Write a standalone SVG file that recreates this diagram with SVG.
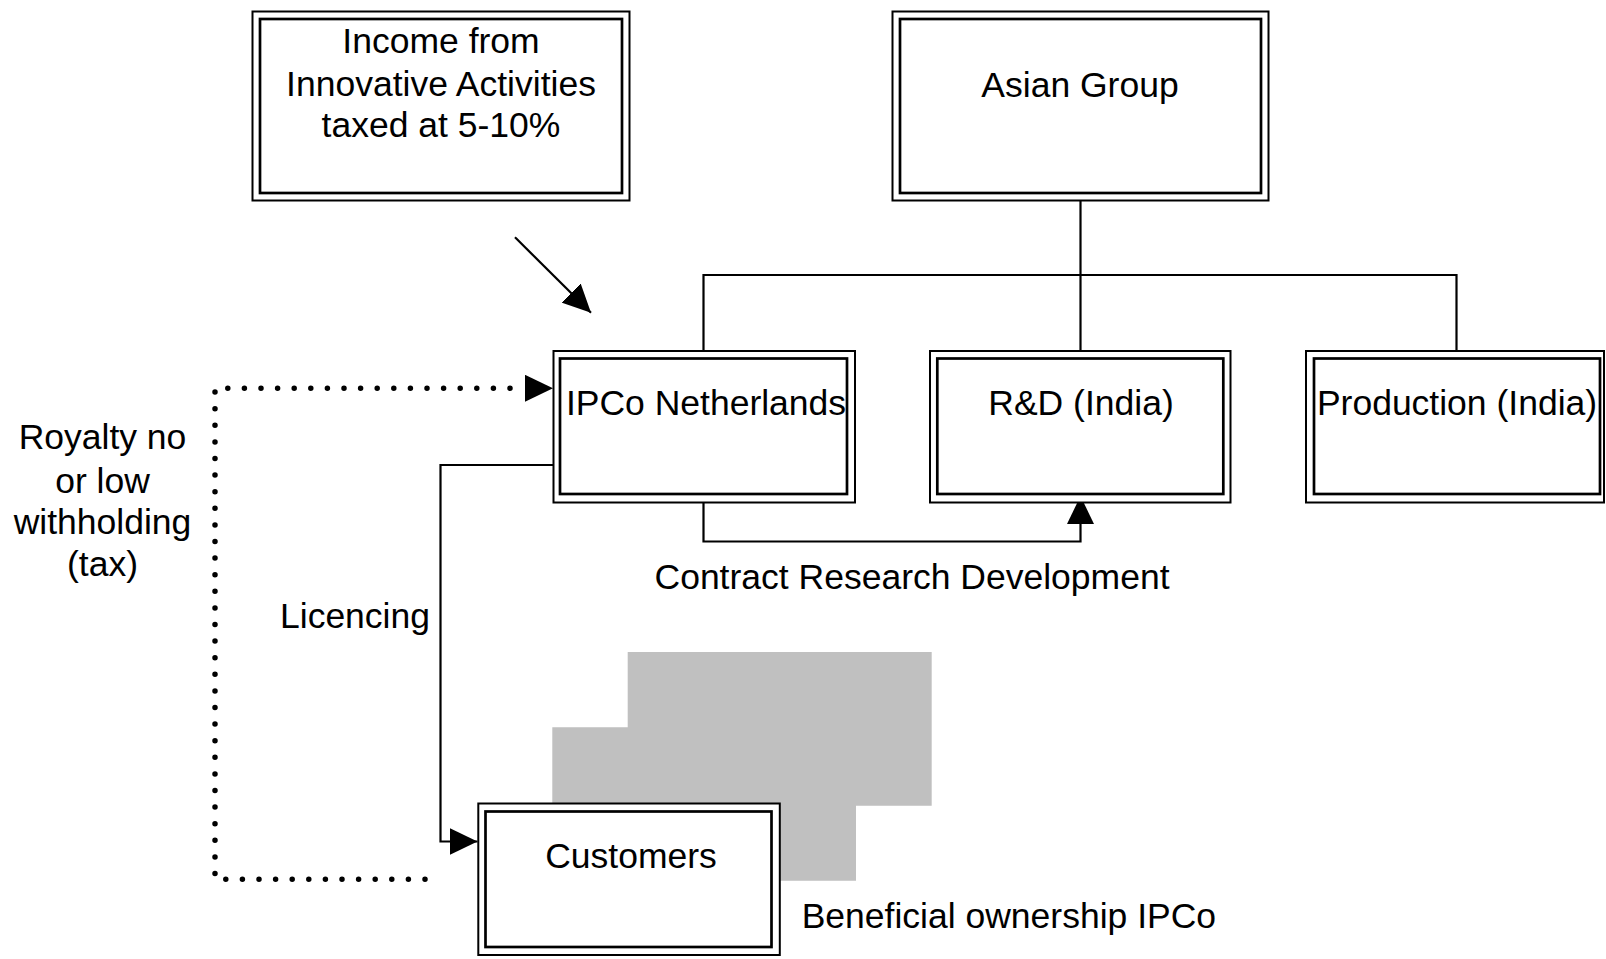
<svg xmlns="http://www.w3.org/2000/svg" width="1606" height="959" viewBox="0 0 1606 959">
<style>
  .outer { fill: #ffffff; stroke: #000000; stroke-width: 2; }
  .inner { fill: none; stroke: #000000; stroke-width: 2.7; }
  .lbl { font-family: "Liberation Sans", Arial, sans-serif; font-size: 35.5px; fill: #000000; }
  .mid { text-anchor: middle; }
  .conn { fill: none; stroke: #000000; stroke-width: 2.2; }
  .dots { fill: none; stroke: #000000; stroke-width: 5.5; stroke-linecap: round; stroke-dasharray: 0 16.6; }
</style>
<defs>
  <marker id="arrow" markerUnits="userSpaceOnUse" markerWidth="28" markerHeight="27" refX="28" refY="13.5" orient="auto">
    <path d="M0,0 L28,13.5 L0,27 Z" fill="#000000"/>
  </marker>
</defs>
<rect width="1606" height="959" fill="#ffffff"/>

<path id="ownership-shape" d="M627.7,652 H931.7 V805.7 H856 V880.7 H552.3 V727.3 H627.7 Z" fill="#c0c0c0"/>

<g id="connectors">
  <path class="conn" d="M1080.5,200.5 V351"/>
  <path class="conn" d="M703.5,351 V275 H1456.5 V351"/>
  <path class="conn" d="M703.5,502.5 V541.5 H1080.5 V496" marker-end="url(#arrow)"/>
  <path class="conn" d="M553,465 H440.5 V841.5 H477.5" marker-end="url(#arrow)"/>
  <path class="conn" d="M515,237.3 L591,312.7" marker-end="url(#arrow)"/>
  <path class="dots" d="M425,879.3 H215 V388.3 H512"/>
  <path d="M524,388.3 H553" fill="none" stroke="none" marker-end="url(#arrow)"/>
</g>

<g id="income">
  <rect class="outer" x="252.5" y="11.5" width="377" height="189"/>
  <rect class="inner" x="260" y="19" width="362" height="174"/>
  <text class="lbl mid" x="441" y="53">Income from</text>
  <text class="lbl mid" x="441" y="95.5">Innovative Activities</text>
  <text class="lbl mid" x="441" y="137">taxed at 5-10%</text>
</g>

<g id="asian-group">
  <rect class="outer" x="892.5" y="11.5" width="376" height="189"/>
  <rect class="inner" x="900" y="19" width="361" height="174"/>
  <text class="lbl mid" x="1080" y="97">Asian Group</text>
</g>

<g id="ipco">
  <rect class="outer" x="553.5" y="351" width="301.5" height="151.5"/>
  <rect class="inner" x="560" y="358.5" width="287" height="135.5"/>
  <text class="lbl mid" x="706" y="415">IPCo Netherlands</text>
</g>

<g id="rnd">
  <rect class="outer" x="930" y="351" width="300.5" height="151.5"/>
  <rect class="inner" x="937.3" y="358.5" width="286" height="135.5"/>
  <text class="lbl mid" x="1081" y="415">R&amp;D (India)</text>
</g>

<g id="production">
  <rect class="outer" x="1306" y="351" width="298" height="151.5"/>
  <rect class="inner" x="1314" y="358.5" width="286" height="135.5"/>
  <text class="lbl mid" x="1457" y="415">Production (India)</text>
</g>

<g id="customers">
  <rect class="outer" x="478.3" y="803.5" width="301.5" height="151.5"/>
  <rect class="inner" x="485.5" y="811.5" width="286" height="135.5"/>
  <text class="lbl mid" x="631" y="868">Customers</text>
</g>

<g id="labels">
  <text class="lbl" x="654.5" y="588.5">Contract Research Development</text>
  <text class="lbl" x="801.7" y="928.3">Beneficial ownership IPCo</text>
  <text class="lbl mid" x="355" y="628.3">Licencing</text>
  <text class="lbl mid" x="102.5" y="448.5">Royalty no</text>
  <text class="lbl mid" x="102.5" y="492.5">or low</text>
  <text class="lbl mid" x="102.5" y="534">withholding</text>
  <text class="lbl mid" x="102.5" y="575.5">(tax)</text>
</g>
</svg>
